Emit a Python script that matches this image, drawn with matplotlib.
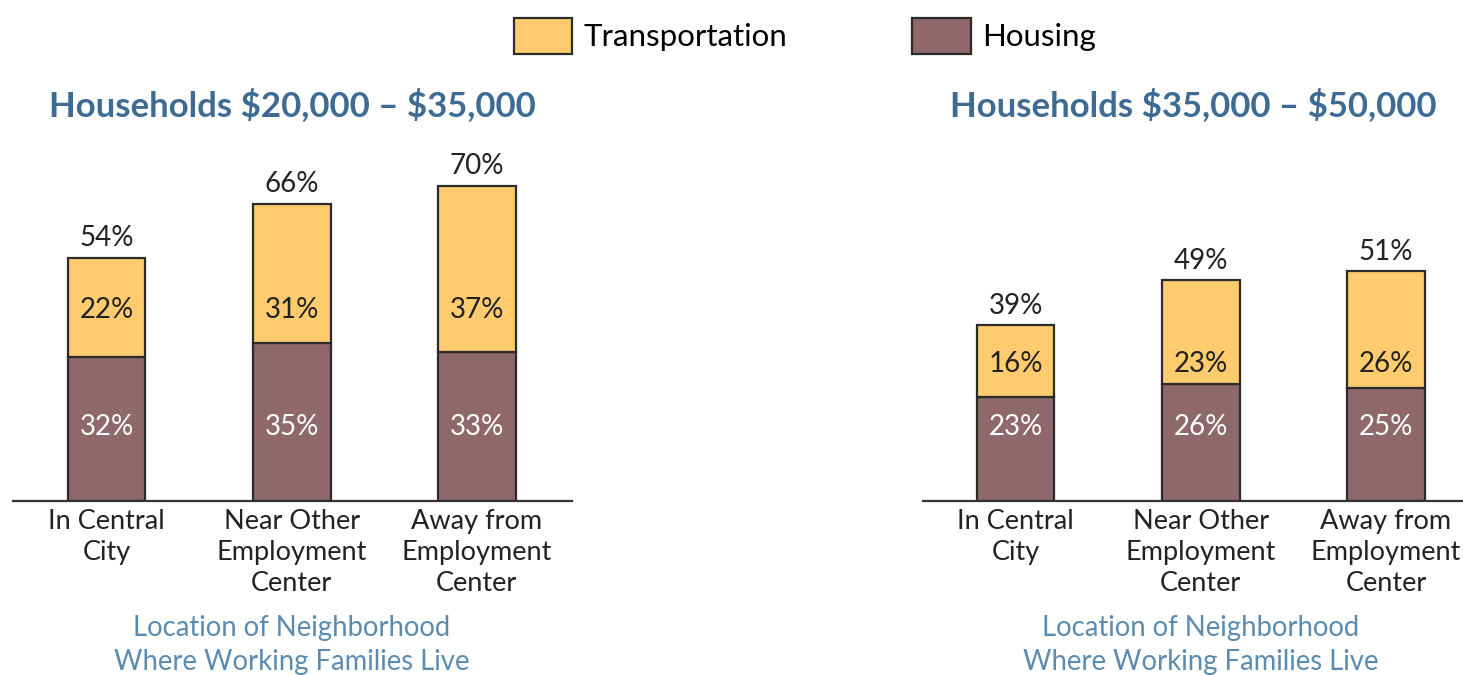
import matplotlib
matplotlib.use('Agg')
import matplotlib.pyplot as plt
from matplotlib.patches import Patch

# data
locations = ['In Central\nCity', 'Near Other\nEmployment\nCenter', 'Away from\nEmployment\nCenter']
titles = ['Households \\$20,000 \u2013 \\$35,000', 'Households \\$35,000 \u2013 \\$50,000']
housing_low = [32, 35, 33]
transport_low = [22, 31, 37]
total_low = [54, 66, 70]
housing_mid = [23, 26, 25]
transport_mid = [16, 23, 26]
total_mid = [39, 49, 51]

# Config:
transport_color = '#FECB6E'
housing_color = '#8F686C'
edge_color = '#2B2B2B'
title_color = '#3D6B93'
sub_color = '#5B8BB0'
font = ['Lato', 'DejaVu Sans']
plt.rcParams['font.family'] = font

fig = plt.figure(figsize=(14.63, 6.75), dpi=100)
ax1 = fig.add_axes([13/1463, 0.2578, 559/1463, 0.5333])
ax2 = fig.add_axes([923/1463, 0.2578, 540/1463, 0.5333])

panels = [(ax1, housing_low, transport_low, total_low, titles[0], (-0.505, 2.514)),
          (ax2, housing_mid, transport_mid, total_mid, titles[1], (-0.5, 2.416))]

for ax, housing, transport, total, title, xlim in panels:
    x = range(len(locations))
    hb = ax.bar(x, housing, width=0.42, color=housing_color, edgecolor=edge_color, linewidth=1.6)
    tb = ax.bar(x, transport, width=0.42, bottom=housing, color=transport_color,
                edgecolor=edge_color, linewidth=1.6)
    ax.set_xlim(*xlim)
    ax.set_ylim(0, 80)
    for s in ['top', 'right', 'left']:
        ax.spines[s].set_visible(False)
    ax.spines['bottom'].set_color('#333333')
    ax.spines['bottom'].set_linewidth(1.6)
    ax.set_yticks([])
    ax.set_xticks(list(x))
    ax.set_xticklabels(locations, fontsize=19.5, color='#222222', linespacing=1.29)
    ax.tick_params(axis='x', length=0, pad=6)

    # labels inside the bars
    t_y = min(h + t / 2 for h, t in zip(housing, transport)) - 0.6
    for i in x:
        ax.text(i, 16.4, '%d%%' % housing[i], ha='center', va='center', fontsize=20, color='white')
        ax.text(i, t_y, '%d%%' % transport[i], ha='center', va='center', fontsize=20, color='#222222')
    ax.bar_label(tb, labels=['%d%%' % v for v in total], padding=5, fontsize=20, color='#222222')

    ax.text(0.5, 1.1, title, transform=ax.transAxes, ha='center', va='center',
            fontsize=25, fontweight='bold', color=title_color)
    ax.text(1, -0.4, 'Location of Neighborhood\nWhere Working Families Live',
            transform=ax.get_xaxis_transform(), ha='center', va='center',
            fontsize=19.8, color=sub_color, linespacing=1.35)

handles = [Patch(facecolor=transport_color, edgecolor=edge_color, linewidth=1.6),
           Patch(facecolor=housing_color, edgecolor=edge_color, linewidth=1.6)]
fig.legend(handles, ['Transportation', 'Housing'], ncol=2, loc='center',
           bbox_to_anchor=(805/1463, 0.947), frameon=False, fontsize=22.5,
           handlelength=1.86, handleheight=1.38, handletextpad=0.38, columnspacing=4.0)

plt.savefig('out.png', dpi=100)
